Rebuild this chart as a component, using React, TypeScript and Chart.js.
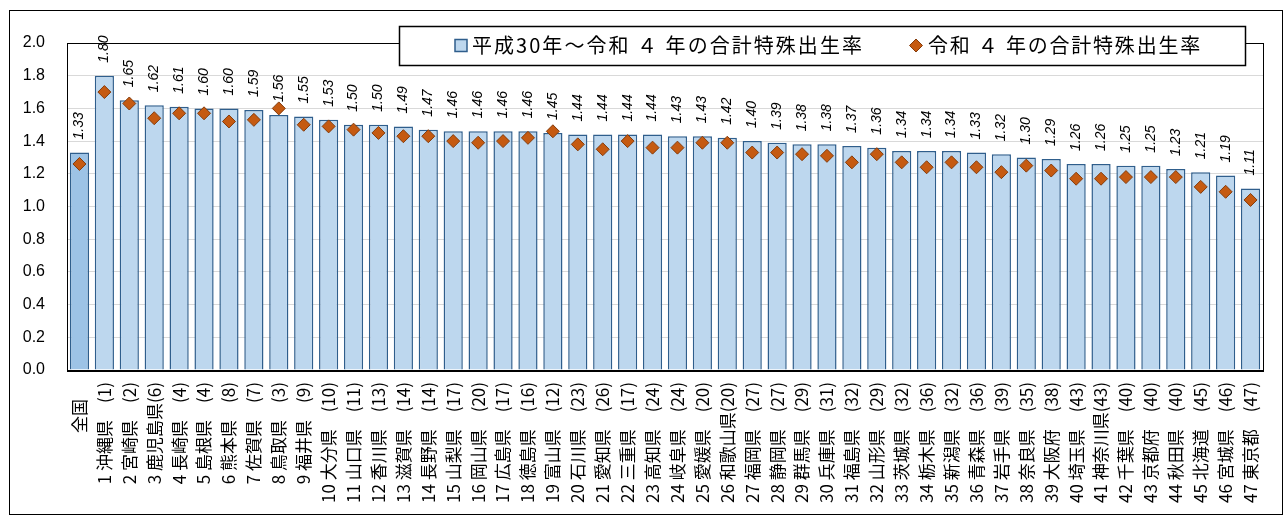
import React, { useEffect, useRef } from 'react';
import { Chart, registerables } from 'chart.js';

Chart.register(...registerables);

const prefectures = [
  '全国', '沖縄県', '宮崎県', '鹿児島県', '長崎県', '島根県', '熊本県', '佐賀県', '鳥取県', '福井県',
  '大分県', '山口県', '香川県', '滋賀県', '長野県', '山梨県', '岡山県', '広島県', '徳島県', '富山県',
  '石川県', '愛知県', '三重県', '高知県', '岐阜県', '愛媛県', '和歌山県', '福岡県', '静岡県', '群馬県',
  '兵庫県', '福島県', '山形県', '茨城県', '栃木県', '新潟県', '青森県', '岩手県', '奈良県', '大阪府',
  '埼玉県', '神奈川県', '千葉県', '京都府', '秋田県', '北海道', '宮城県', '東京都',
];

// rank of the 令和4年 rate (0 = national, no rank)
const ranks2022 = [
  0, 1, 2, 6, 4, 4, 8, 7, 3, 9,
  10, 11, 13, 14, 14, 17, 20, 17, 16, 12,
  23, 26, 17, 24, 24, 20, 20, 27, 27, 29,
  31, 32, 29, 32, 36, 32, 36, 39, 35, 38,
  43, 43, 40, 40, 40, 45, 46, 47,
];

// 平成30年～令和4年の合計特殊出生率
const avgRate = [
  1.33, 1.80, 1.65, 1.62, 1.61, 1.60, 1.60, 1.59, 1.56, 1.55,
  1.53, 1.50, 1.50, 1.49, 1.47, 1.46, 1.46, 1.46, 1.46, 1.45,
  1.44, 1.44, 1.44, 1.44, 1.43, 1.43, 1.42, 1.40, 1.39, 1.38,
  1.38, 1.37, 1.36, 1.34, 1.34, 1.34, 1.33, 1.32, 1.30, 1.29,
  1.26, 1.26, 1.25, 1.25, 1.23, 1.21, 1.19, 1.11,
];

// 令和4年の合計特殊出生率
const rate2022 = [
  1.26, 1.70, 1.63, 1.54, 1.57, 1.57, 1.52, 1.53, 1.60, 1.50,
  1.49, 1.47, 1.45, 1.43, 1.43, 1.40, 1.39, 1.40, 1.42, 1.46,
  1.38, 1.35, 1.40, 1.36, 1.36, 1.39, 1.39, 1.33, 1.33, 1.32,
  1.31, 1.27, 1.32, 1.27, 1.24, 1.27, 1.24, 1.21, 1.25, 1.22,
  1.17, 1.17, 1.18, 1.18, 1.18, 1.12, 1.09, 1.04,
];

const seriesNames = ['平成30年～令和 ４ 年の合計特殊出生率', '令和 ４ 年の合計特殊出生率'];

const categoryLabels = prefectures.map((p, i) =>
  i === 0 ? p + '　' : `${i} ${p.padEnd(4, '　')}(${ranks2022[i]})`
);

const BAR_FILL = '#BDD7EE';
const BAR_FILL_NATIONAL = '#9DC3E6';
const BAR_BORDER = '#2F5E8C';
const DIAMOND_FILL = '#C55A11';
const DIAMOND_BORDER = '#843C0C';

const decorPlugin = {
  id: 'decor',
  beforeDraw(chart: any) {
    const { ctx, width, height } = chart;
    ctx.save();
    ctx.fillStyle = '#ffffff';
    ctx.fillRect(0, 0, width, height);
    ctx.restore();
  },
  afterDraw(chart: any) {
    const { ctx, chartArea: a } = chart;
    ctx.save();
    // outer frame
    ctx.strokeStyle = '#000000';
    ctx.lineWidth = 1;
    ctx.strokeRect(9.5, 10.5, 1273, 504);
    // plot frame
    ctx.strokeRect(a.left + 0.5, a.top + 0.5, a.right - a.left, a.bottom - a.top);
    ctx.lineWidth = 2;
    ctx.beginPath();
    ctx.moveTo(a.left, a.bottom + 1);
    ctx.lineTo(a.right + 1, a.bottom + 1);
    ctx.stroke();
    ctx.restore();

    // rotated, italic value labels above each bar
    const meta = chart.getDatasetMeta(0);
    meta.data.forEach((el: any, i: number) => {
      ctx.save();
      ctx.translate(el.x, el.y - 13);
      ctx.rotate(-Math.PI / 2);
      ctx.fillStyle = '#000000';
      ctx.font = 'italic 14px "Liberation Sans"';
      ctx.textAlign = 'left';
      ctx.textBaseline = 'middle';
      ctx.fillText(avgRate[i].toFixed(2), 0, 0);
      ctx.restore();
    });

    ctx.save();
    // legend box
    const lx = 399, ly = 26, lw = 846, lh = 39;
    ctx.fillStyle = '#ffffff';
    ctx.fillRect(lx, ly, lw, lh);
    ctx.strokeStyle = '#000000';
    ctx.lineWidth = 1.5;
    ctx.strokeRect(lx + 0.5, ly + 0.5, lw, lh);

    const cy = 45.5;
    ctx.fillStyle = BAR_FILL;
    ctx.strokeStyle = BAR_BORDER;
    ctx.lineWidth = 1.5;
    ctx.fillRect(455, cy - 6, 12, 12);
    ctx.strokeRect(455, cy - 6, 12, 12);
    ctx.beginPath();
    ctx.moveTo(916, cy - 6.5);
    ctx.lineTo(922.5, cy);
    ctx.lineTo(916, cy + 6.5);
    ctx.lineTo(909.5, cy);
    ctx.closePath();
    ctx.fillStyle = DIAMOND_FILL;
    ctx.fill();
    ctx.strokeStyle = DIAMOND_BORDER;
    ctx.lineWidth = 1;
    ctx.stroke();

    ctx.font = '20px "Noto Sans CJK JP"';
    ctx.fillStyle = '#000000';
    ctx.textAlign = 'left';
    ctx.textBaseline = 'middle';
    const drawSpaced = (t: string, x: number, target: number) => {
      (ctx as any).letterSpacing = '0px';
      const w = ctx.measureText(t).width;
      const ls = (target - w) / t.length;
      (ctx as any).letterSpacing = ls + 'px';
      ctx.fillText(t, x, cy);
      (ctx as any).letterSpacing = '0px';
    };
    drawSpaced(seriesNames[0], 472, 392);
    drawSpaced(seriesNames[1], 928, 274);
    ctx.restore();
  },
};

export default function App() {
  const ref = useRef<HTMLCanvasElement | null>(null);

  useEffect(() => {
    if (!ref.current) return;
    const chart = new Chart(ref.current, {
      type: 'bar',
      data: {
        labels: categoryLabels,
        datasets: [
          {
            type: 'bar',
            label: seriesNames[0],
            data: avgRate,
            backgroundColor: avgRate.map((_, i) => (i === 0 ? BAR_FILL_NATIONAL : BAR_FILL)),
            borderColor: BAR_BORDER,
            borderWidth: 1.5,
            barPercentage: 0.77,
            categoryPercentage: 1,
            order: 2,
          } as any,
          {
            type: 'line',
            label: seriesNames[1],
            data: rate2022,
            showLine: false,
            pointStyle: 'rectRot',
            pointRadius: 6.5,
            pointBackgroundColor: DIAMOND_FILL,
            pointBorderColor: DIAMOND_BORDER,
            pointBorderWidth: 1,
            order: 1,
          } as any,
        ],
      },
      options: {
        responsive: false,
        animation: false,
        devicePixelRatio: 1,
        layout: { padding: { left: 9, top: 43, right: 22, bottom: 0 } },
        plugins: {
          legend: { display: false },
          tooltip: { enabled: false },
        },
        scales: {
          x: {
            grid: { display: false, drawTicks: false },
            border: { display: false },
            ticks: {
              autoSkip: false,
              minRotation: 90,
              maxRotation: 90,
              padding: 12,
              color: '#000000',
              font: { family: '"Noto Sans CJK JP"', size: 17 },
            },
            afterFit: (scale: any) => {
              scale.height = 146;
            },
          },
          y: {
            min: 0,
            max: 2,
            grid: { color: '#D9D9D9', lineWidth: 1, drawTicks: false },
            border: { display: false },
            ticks: {
              stepSize: 0.2,
              padding: 22,
              color: '#000000',
              font: { family: '"Liberation Sans"', size: 16 },
              callback: (v: any) => Number(v).toFixed(1),
            },
            afterFit: (scale: any) => {
              scale.width = 58;
            },
          },
        },
      },
      plugins: [decorPlugin],
    });
    return () => chart.destroy();
  }, []);

  return (
    <div style={{ position: 'absolute', left: 0, top: 0, width: 1285, height: 516 }}>
      <canvas ref={ref} width={1285} height={516} style={{ display: 'block' }} />
    </div>
  );
}
